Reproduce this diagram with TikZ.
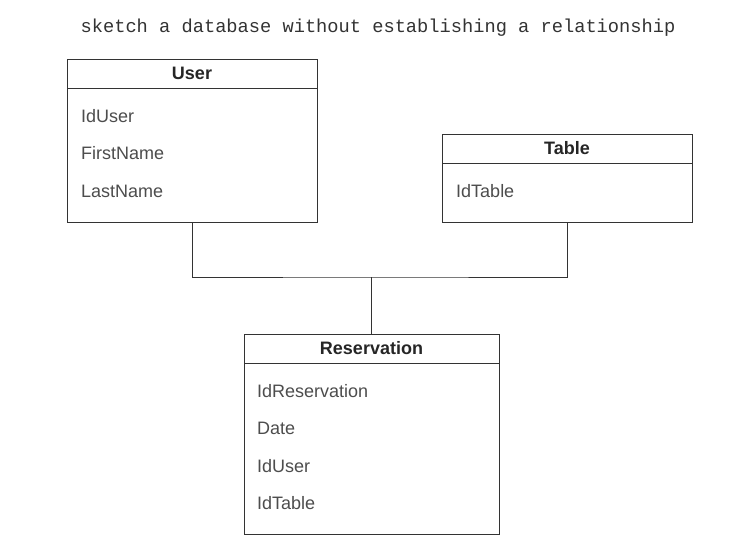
\documentclass[tikz,border=0pt]{standalone}
\usepackage{fontspec}
\setmainfont{Liberation Sans}
\newfontfamily\titlefont{Liberation Mono}
\usetikzlibrary{positioning,calc}
\definecolor{erLine}{HTML}{333333}
\definecolor{erText}{HTML}{4D4D4D}
\tikzset{
    erHead/.style={
        rectangle,
        draw=erLine,
        line width=1pt,
        minimum height=29pt,
        inner sep=0pt,
        outer sep=0pt,
        font=\fontsize{18}{20}\selectfont\bfseries,
        text=black!85
    },
    erBody/.style={
        rectangle,
        draw=erLine,
        line width=1pt,
        inner sep=0pt,
        outer sep=0pt
    },
    erAttr/.style={
        anchor=west,
        inner sep=0pt,
        text height=12.9pt,
        text depth=0pt,
        font=\fontsize{18}{20}\selectfont,
        text=erText
    },
    % Connectors
    erLink/.style={draw=erLine, line width=1pt}
}
\begin{document}
\begin{tikzpicture}[x=1pt, y=-1pt]
\useasboundingbox[fill=white] (0,0) rectangle (737,552);

% Title
\node[font=\titlefont\fontsize{18.7}{20}\selectfont, text=erLine] (title) at (378,28)
    {sketch a database without establishing a relationship};

% User
\node[erHead, minimum width=250pt] (userHead) at (192,73.5) {User};
\node[erBody, minimum width=250pt, minimum height=134pt, below=0pt of userHead] (userBody) {};
\foreach [count=\i] \attr in {IdUser,FirstName,LastName}
    \node[erAttr] (userAttr\i) at ($(userBody.north west)+(14,28+37.5*\i-37.5)$) {\attr};

% Table
\node[erHead, minimum width=250pt] (tableHead) at (567,148.5) {Table};
\node[erBody, minimum width=250pt, minimum height=59pt, below=0pt of tableHead] (tableBody) {};
\node[erAttr] (tableAttr1) at ($(tableBody.north west)+(14,28)$) {IdTable};

% Reservation
\node[erHead, minimum width=255pt] (resHead) at (371.5,348.5) {Reservation};
\node[erBody, minimum width=255pt, minimum height=171pt, below=0pt of resHead] (resBody) {};
\foreach [count=\i] \attr in {IdReservation,Date,IdUser,IdTable}
    \node[erAttr] (resAttr\i) at ($(resBody.north west)+(13,28+37.4*\i-37.4)$) {\attr};

% Links
\coordinate (joint) at ($(resHead.north)+(0,-57)$);
\draw[erLink] (userBody.south) |- (joint) -| (tableBody.south);
\draw[erLink] (joint) -- (resHead.north);
\end{tikzpicture}
\end{document}
